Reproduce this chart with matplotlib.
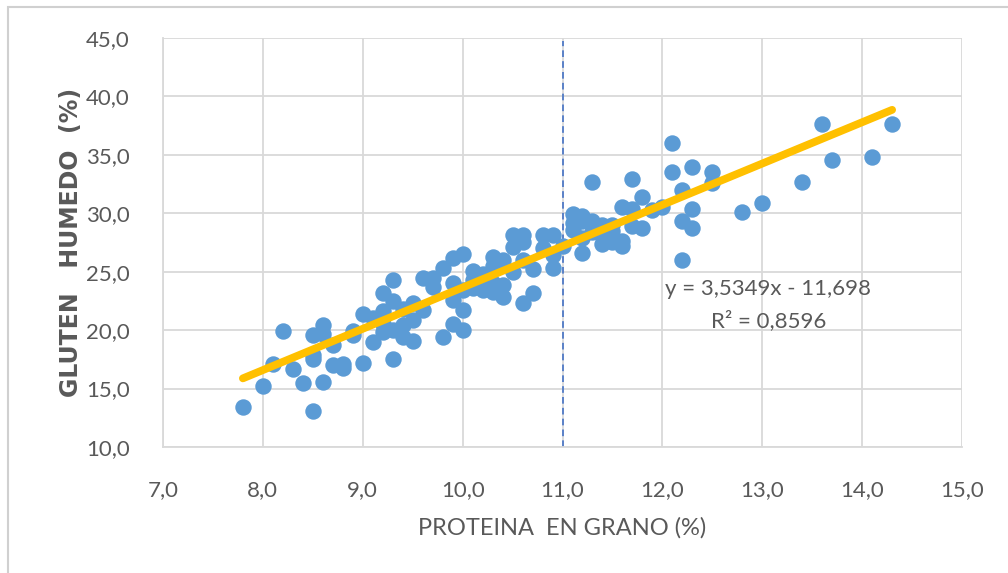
import matplotlib.pyplot as plt
import matplotlib.patches as patches
import numpy as np

# -----------------
# DATA
# -----------------
proteina = [
    7.8, 8.0, 8.1, 8.2, 8.3, 8.4, 8.5, 8.5, 8.5, 8.5, 8.6, 8.6, 8.6, 8.7, 8.7,
    8.8, 8.8, 8.9, 9.0, 9.0, 9.1, 9.1, 9.2, 9.2, 9.2, 9.3, 9.3, 9.3, 9.4, 9.4,
    9.5, 9.5, 9.6, 9.6, 9.7, 9.7, 9.8, 9.8, 9.9, 9.9, 9.9, 10.0, 10.0, 10.0,
    10.0, 10.1, 10.1, 10.2, 10.2, 10.3, 10.3, 10.3, 10.4, 10.4, 10.4, 10.5,
    10.5, 10.6, 10.6, 10.6, 10.6, 10.7, 10.7, 10.8, 10.8, 10.9, 10.9, 10.9,
    9.4, 9.5, 9.9, 10.1, 10.2, 10.3, 10.5, 9.3, 9.2, 8.9,
    11.0, 11.1, 11.1, 11.2, 11.2, 11.2, 11.3, 11.3, 11.3, 11.4, 11.4, 11.5,
    11.5, 11.6, 11.6, 11.7, 11.7, 11.8, 11.8, 11.9, 12.0, 12.1, 12.1, 12.2,
    12.2, 12.2, 12.3, 12.3, 12.3, 12.5, 12.5, 12.8, 13.0, 13.4, 13.6, 13.7,
    14.1, 14.3, 11.1, 11.2, 11.4, 11.5, 11.6, 11.7
]
gluten = [
    13.4, 15.2, 17.1, 19.9, 16.7, 15.5, 17.5, 13.1, 19.6, 17.9, 20.4, 15.6,
    19.7, 17.0, 18.7, 17.1, 16.8, 19.9, 21.4, 17.2, 19.0, 21.0, 23.2, 20.5,
    21.6, 24.3, 17.5, 20.0, 20.4, 19.4, 19.1, 20.9, 24.5, 21.7, 24.5, 23.7,
    19.4, 25.3, 20.5, 26.2, 22.6, 20.0, 26.5, 21.7, 23.4, 24.3, 25.1, 23.4,
    24.8, 25.5, 26.3, 24.0, 23.9, 26.0, 22.8, 28.1, 27.1, 28.1, 22.3, 26.0,
    27.5, 23.2, 25.2, 28.1, 27.0, 28.1, 25.3, 26.4,
    21.8, 22.3, 24.0, 23.6, 24.0, 23.3, 25.0, 22.5, 19.8, 19.6,
    27.2, 29.9, 28.6, 29.8, 26.6, 27.9, 32.7, 29.3, 28.4, 29.0, 28.1, 27.5,
    28.5, 27.6, 30.5, 32.9, 28.9, 31.4, 28.7, 30.3, 30.5, 36.0, 33.5, 32.0,
    29.3, 26.0, 34.0, 30.4, 28.7, 33.5, 32.6, 30.1, 30.9, 32.7, 37.6, 34.6,
    34.8, 37.6, 29.2, 29.3, 27.4, 29.0, 27.2, 30.4
]

# trendline as printed on the chart
pendiente = 3.5349
intercepto = -11.698
x_linea = [7.8, 14.3]

grid_col = '#D9D9D9'
text_col = '#595959'
plt.rcParams['font.family'] = ['Lato', 'DejaVu Sans']

fig = plt.figure(figsize=(10.08, 5.73), dpi=100)
ax = fig.add_axes([0.1617, 0.2199, 0.7927, 0.7138])

ax.scatter(proteina, gluten, s=140, color='#5B9BD5', zorder=3, linewidths=0)
xl = np.array(x_linea)
ax.plot(xl, pendiente * xl + intercepto, color='#FFC000', lw=5.6,
        solid_capstyle='round', zorder=4)
ax.plot([11.0, 11.0], [10.0, 44.7], color='#4472C4', lw=1.2,
        linestyle=(0, (4, 2.5)), zorder=2)

ax.text(13.06, 23.5, 'y = 3,5349x - 11,698', ha='center', va='center',
        fontsize=16, color=text_col, zorder=5)
ax.text(13.06, 20.8, 'R² = 0,8596', ha='center', va='center',
        fontsize=16, color=text_col, zorder=5)

ax.set_xlim(7.0, 15.0)
ax.set_ylim(10.0, 45.0)
ax.set_xticks(np.arange(7, 15.5, 1))
ax.set_yticks(np.arange(10, 46, 5))
ax.set_xticklabels([f'{v:.1f}'.replace('.', ',') for v in np.arange(7, 15.5, 1)])
ax.set_yticklabels([f'{v:.1f}'.replace('.', ',') for v in np.arange(10, 46, 5)])
ax.tick_params(length=0, labelsize=16, colors=text_col)
ax.tick_params(axis='x', pad=24)
ax.tick_params(axis='y', pad=24)
ax.grid(True, color=grid_col, lw=1.3)
ax.set_axisbelow(True)
for s in ['top', 'right']:
    ax.spines[s].set_visible(False)
for s in ['left', 'bottom']:
    ax.spines[s].set_color(grid_col)
    ax.spines[s].set_linewidth(1.3)

ax.set_xlabel('PROTEINA  EN GRANO (%)', fontsize=17, color=text_col, labelpad=12)
ax.set_ylabel('GLUTEN   HUMEDO  (%)', fontsize=17, color=text_col,
              fontweight='bold', family='DejaVu Sans', labelpad=2)

# outer chart border
fig.patches.append(patches.Rectangle((0.008, -0.1), 1.2, 0.988 + 0.1,
                                     transform=fig.transFigure, fill=False,
                                     edgecolor='#D0D0D0', lw=1.5))

fig.savefig('out.png', dpi=100)
